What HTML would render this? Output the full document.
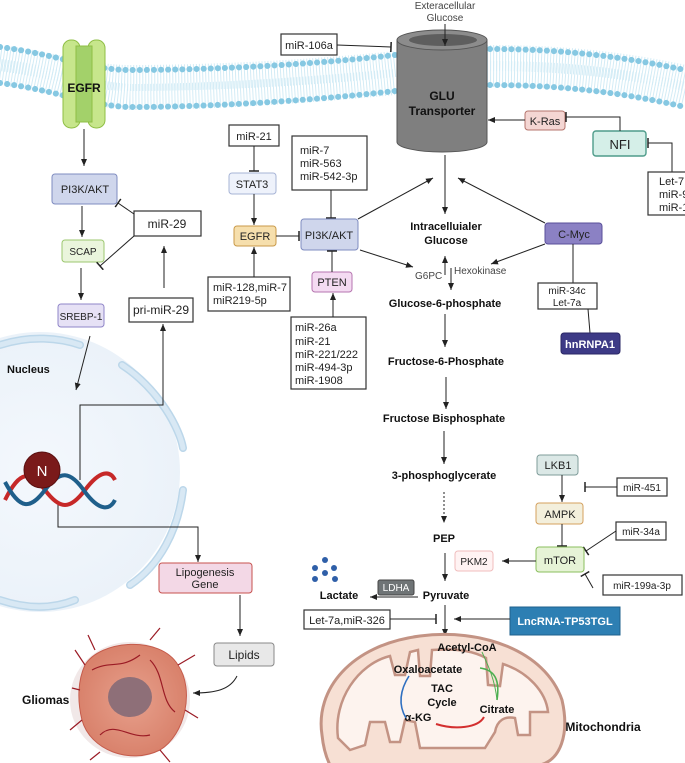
<!DOCTYPE html>
<html><head><meta charset="utf-8"><style>
html,body{margin:0;padding:0;background:#fff}
svg{display:block}
text{font-family:"Liberation Sans",sans-serif;font-size:11px;fill:#222}
.b{font-weight:bold;fill:#111}
.bx{fill:#fff;stroke:#333;stroke-width:1.2}
.ln{stroke:#222;stroke-width:1;fill:none}
</style></head><body>
<svg width="685" height="763" viewBox="0 0 685 763" xmlns="http://www.w3.org/2000/svg">
<defs>
<marker id="a" markerWidth="8" markerHeight="8" refX="7" refY="4" orient="auto" markerUnits="userSpaceOnUse"><path d="M0,1 L7,4 L0,7 z" fill="#222"/></marker>
<marker id="t" markerWidth="4" markerHeight="10" refX="2" refY="5" orient="auto" markerUnits="userSpaceOnUse"><path d="M2,0 L2,10" stroke="#222" stroke-width="1.5"/></marker>
<radialGradient id="nuc" cx="0.5" cy="0.5" r="0.5"><stop offset="0" stop-color="#f4f8fd"/><stop offset="1" stop-color="#ebf2f9"/></radialGradient>
<radialGradient id="tum" cx="0.5" cy="0.5" r="0.5"><stop offset="0" stop-color="#e7a08c"/><stop offset="1" stop-color="#d9826c"/></radialGradient>
</defs>

<!-- membrane -->
<g fill="none" stroke="#d3ecf6" stroke-width="26" stroke-dasharray="1 2">
<path d="M0,58 C60,66 90,78 130,78 C200,78 300,74 395,64"/>
<path d="M487,58 C560,58 620,64 685,78"/>
<path d="M0,72 C60,80 90,95 130,97 C200,97 300,91 395,82"/>
<path d="M487,74 C560,74 620,80 685,95"/>
</g>
<g fill="none" stroke="#86c8e2" stroke-width="6" stroke-linecap="round" stroke-dasharray="0.1 7">
<path d="M0,47 C60,55 90,70 130,70 C200,70 300,66 395,55"/>
<path d="M0,83 C60,91 90,106 130,107 C200,107 300,102 395,91"/>
<path d="M490,49 C560,49 620,56 685,70"/>
<path d="M490,85 C560,85 620,92 685,107"/>
</g>

<!-- EGFR receptor -->
<rect x="63" y="40" width="17" height="88" rx="8" fill="#c7e68c" stroke="#8fbf45"/>
<rect x="88" y="40" width="17" height="88" rx="8" fill="#c7e68c" stroke="#8fbf45"/>
<rect x="76" y="46" width="16" height="76" fill="#a3d16a" stroke="#8fbf45"/>
<text x="84" y="92" text-anchor="middle" class="b" style="font-size:12px">EGFR</text>

<!-- Transporter -->
<path d="M397,40 L397,142 A45,10 0 0 0 487,142 L487,40 Z" fill="#7f7f7f" stroke="#555"/>
<ellipse cx="442" cy="40" rx="45" ry="10" fill="#8c8c8c" stroke="#555"/>
<ellipse cx="443" cy="40" rx="34" ry="6" fill="#5e5e5e"/>
<text x="442" y="100" text-anchor="middle" class="b" style="font-size:12px">GLU</text>
<text x="442" y="115" text-anchor="middle" class="b" style="font-size:12px">Transporter</text>
<text x="445" y="9" text-anchor="middle" style="font-size:10px;fill:#444">Exteracellular</text>
<text x="445" y="21" text-anchor="middle" style="font-size:10px;fill:#444">Glucose</text>
<line x1="445" y1="24" x2="445" y2="46" class="ln" marker-end="url(#a)"/>

<rect x="281" y="34" width="56" height="21" class="bx"/><text x="309" y="49" text-anchor="middle">miR-106a</text>
<line x1="337" y1="45" x2="391" y2="47" class="ln" marker-end="url(#t)"/>

<rect x="525" y="111" width="40" height="19" rx="3" fill="#f4d6d3" stroke="#b5746c"/><text x="545" y="125" text-anchor="middle">K-Ras</text>
<line x1="525" y1="120" x2="488" y2="120" class="ln" marker-end="url(#a)"/>
<rect x="593" y="131" width="53" height="25" rx="3" fill="#d5efe8" stroke="#4e9c8a" stroke-width="1.4"/><text x="620" y="149" text-anchor="middle" style="font-size:13px">NFI</text>
<path d="M620,131 L620,117 L566,117" class="ln" marker-end="url(#t)"/>
<path d="M672,172 L672,143 L648,143" class="ln" marker-end="url(#t)"/>
<rect x="648" y="172" width="45" height="43" class="bx"/>
<text x="659" y="185">Let-7</text><text x="659" y="198">miR-9</text><text x="659" y="211">miR-1</text>

<!-- middle column -->
<rect x="229" y="125" width="50" height="21" class="bx"/><text x="254" y="140" text-anchor="middle">miR-21</text>
<line x1="254" y1="146" x2="254" y2="171" class="ln" marker-end="url(#t)"/>
<rect x="229" y="173" width="47" height="21" rx="3" fill="#eef2fb" stroke="#a7b4d6"/><text x="252" y="188" text-anchor="middle">STAT3</text>
<line x1="254" y1="194" x2="254" y2="225" class="ln" marker-end="url(#a)"/>
<rect x="234" y="226" width="42" height="20" rx="3" fill="#f6dfad" stroke="#c99a49"/><text x="255" y="240" text-anchor="middle">EGFR</text>
<line x1="276" y1="236" x2="299" y2="236" class="ln" marker-end="url(#t)"/>
<rect x="292" y="136" width="75" height="54" class="bx"/>
<text x="300" y="154">miR-7</text><text x="300" y="167">miR-563</text><text x="300" y="180">miR-542-3p</text>
<line x1="331" y1="190" x2="331" y2="218" class="ln" marker-end="url(#t)"/>
<rect x="301" y="219" width="57" height="31" rx="3" fill="#cfd6ec" stroke="#7f8cc0"/><text x="329" y="239" text-anchor="middle">PI3K/AKT</text>
<rect x="208" y="277" width="82" height="34" class="bx"/>
<text x="213" y="291">miR-128,miR-7</text><text x="213" y="304">miR219-5p</text>
<line x1="254" y1="277" x2="254" y2="247" class="ln" marker-end="url(#a)"/>
<rect x="312" y="272" width="40" height="20" rx="3" fill="#f4dbf2" stroke="#b676b0"/><text x="332" y="286" text-anchor="middle">PTEN</text>
<line x1="332" y1="272" x2="332" y2="251" class="ln" marker-end="url(#t)"/>
<rect x="291" y="317" width="75" height="72" class="bx"/>
<text x="295" y="331">miR-26a</text><text x="295" y="345">miR-21</text><text x="295" y="358">miR-221/222</text><text x="295" y="371">miR-494-3p</text><text x="295" y="384">miR-1908</text>
<line x1="333" y1="317" x2="333" y2="293" class="ln" marker-end="url(#a)"/>
<line x1="358" y1="219" x2="433" y2="178" class="ln" marker-end="url(#a)"/>
<line x1="360" y1="250" x2="413" y2="267" class="ln" marker-end="url(#a)"/>
<text x="415" y="279" style="font-size:10px;fill:#444">G6PC</text>

<!-- glycolysis -->
<line x1="445" y1="155" x2="445" y2="214" class="ln" marker-end="url(#a)"/>
<text x="446" y="230" text-anchor="middle" class="b">Intracelluialer</text>
<text x="446" y="244" text-anchor="middle" class="b">Glucose</text>
<line x1="445" y1="275" x2="445" y2="256" class="ln" marker-end="url(#a)"/>
<line x1="451" y1="268" x2="451" y2="290" class="ln" marker-end="url(#a)"/>
<text x="454" y="274" style="font-size:10px;fill:#444">Hexokinase</text>
<text x="445" y="307" text-anchor="middle" class="b">Glucose-6-phosphate</text>
<line x1="445" y1="314" x2="445" y2="347" class="ln" marker-end="url(#a)"/>
<text x="446" y="365" text-anchor="middle" class="b">Fructose-6-Phosphate</text>
<line x1="446" y1="377" x2="446" y2="409" class="ln" marker-end="url(#a)"/>
<text x="444" y="422" text-anchor="middle" class="b">Fructose Bisphosphate</text>
<line x1="444" y1="431" x2="444" y2="464" class="ln" marker-end="url(#a)"/>
<text x="444" y="479" text-anchor="middle" class="b">3-phosphoglycerate</text>
<line x1="444" y1="492" x2="444" y2="523" class="ln" stroke-dasharray="2 2" marker-end="url(#a)"/>
<text x="444" y="542" text-anchor="middle" class="b">PEP</text>
<line x1="445" y1="553" x2="445" y2="581" class="ln" marker-end="url(#a)"/>
<text x="446" y="599" text-anchor="middle" class="b">Pyruvate</text>
<line x1="445" y1="605" x2="445" y2="636" class="ln" marker-end="url(#a)"/>

<!-- C-Myc -->
<rect x="545" y="223" width="57" height="21" rx="3" fill="#8b81c4" stroke="#5a4f9a"/><text x="574" y="238" text-anchor="middle">C-Myc</text>
<line x1="545" y1="223" x2="458" y2="178" class="ln" marker-end="url(#a)"/>
<line x1="545" y1="244" x2="491" y2="264" class="ln" marker-end="url(#a)"/>
<line x1="573" y1="244" x2="573" y2="283" class="ln"/>
<rect x="538" y="283" width="59" height="26" class="bx"/>
<text x="567" y="294" text-anchor="middle" style="font-size:10px">miR-34c</text><text x="567" y="306" text-anchor="middle" style="font-size:10px">Let-7a</text>
<line x1="588" y1="309" x2="590" y2="333" class="ln"/>
<rect x="561" y="333" width="59" height="21" rx="3" fill="#3d3a86" stroke="#2a2766"/><text x="590" y="348" text-anchor="middle" style="fill:#fff;font-weight:bold">hnRNPA1</text>

<!-- LKB1 / AMPK / mTOR -->
<rect x="537" y="455" width="41" height="20" rx="3" fill="#dbe8e6" stroke="#7f9c9a"/><text x="558" y="469" text-anchor="middle">LKB1</text>
<line x1="562" y1="475" x2="562" y2="502" class="ln" marker-end="url(#a)"/>
<rect x="617" y="478" width="50" height="18" class="bx"/><text x="642" y="491" text-anchor="middle" style="font-size:10px">miR-451</text>
<line x1="617" y1="487" x2="585" y2="487" class="ln" marker-end="url(#t)"/>
<rect x="536" y="503" width="47" height="21" rx="3" fill="#f3efdc" stroke="#d4a05e"/><text x="560" y="518" text-anchor="middle">AMPK</text>
<line x1="562" y1="524" x2="562" y2="546" class="ln" marker-end="url(#t)"/>
<rect x="616" y="522" width="50" height="18" class="bx"/><text x="641" y="535" text-anchor="middle" style="font-size:10px">miR-34a</text>
<line x1="616" y1="531" x2="586" y2="551" class="ln" marker-end="url(#t)"/>
<rect x="536" y="547" width="48" height="25" rx="3" fill="#e6f3d6" stroke="#8bbf5e"/><text x="560" y="564" text-anchor="middle">mTOR</text>
<line x1="536" y1="561" x2="502" y2="561" class="ln" marker-end="url(#a)"/>
<rect x="455" y="551" width="38" height="20" rx="3" fill="#fff3f3" stroke="#f0bdbd"/><text x="474" y="565" text-anchor="middle" style="font-size:10px">PKM2</text>
<rect x="603" y="575" width="79" height="20" class="bx"/><text x="642" y="589" text-anchor="middle" style="font-size:10px">miR-199a-3p</text>
<line x1="593" y1="588" x2="585" y2="574" class="ln" marker-end="url(#t)"/>

<!-- Lactate -->
<g fill="#2f5fa8"><circle cx="325" cy="560" r="3"/><circle cx="315" cy="568" r="3"/><circle cx="334" cy="568" r="3"/><circle cx="325" cy="573" r="3"/><circle cx="315" cy="579" r="3"/><circle cx="335" cy="579" r="3"/></g>
<rect x="378" y="580" width="36" height="15" rx="2" fill="#6f7476" stroke="#444"/><text x="396" y="591" text-anchor="middle" style="font-size:10px;fill:#fff">LDHA</text>
<line x1="418" y1="597" x2="370" y2="597" class="ln" marker-end="url(#a)"/>
<text x="339" y="599" text-anchor="middle" class="b">Lactate</text>
<rect x="304" y="610" width="86" height="19" class="bx"/><text x="347" y="624" text-anchor="middle">Let-7a,miR-326</text>
<line x1="390" y1="619" x2="436" y2="619" class="ln" marker-end="url(#t)"/>
<rect x="510" y="607" width="110" height="28" fill="#2d7fb3" stroke="#1f628e"/><text x="565" y="625" text-anchor="middle" style="fill:#fff;font-weight:bold">LncRNA-TP53TGL</text>
<line x1="510" y1="619" x2="454" y2="619" class="ln" marker-end="url(#a)"/>

<!-- Mitochondria -->
<path d="M322,735 C315,690 350,645 420,636 C480,628 545,650 562,700 C570,735 560,760 540,765 L330,765 C325,755 323,745 322,735 Z" fill="#f7e0d4" stroke="#c39384" stroke-width="3"/>
<path d="M338,738 C333,700 358,664 390,656 L395,675 L405,675 L410,652 L418,650 L420,676 L430,676 L432,650 C460,648 475,652 486,658 L488,685 L500,686 L503,664 C528,672 546,692 548,712 L530,712 L530,735 L518,735 L515,718 C505,716 497,720 495,732 L485,748 L420,748 L415,722 L405,720 L400,742 L390,742 L385,722 L370,722 L365,745 L350,750 Z" fill="#fdf3ee" stroke="#c39384" stroke-width="2.5"/>
<text x="467" y="651" text-anchor="middle" class="b">Acetyl-CoA</text>
<text x="428" y="673" text-anchor="middle" class="b">Oxaloacetate</text>
<text x="442" y="692" text-anchor="middle" class="b">TAC</text>
<text x="442" y="706" text-anchor="middle" class="b">Cycle</text>
<text x="497" y="713" text-anchor="middle" class="b">Citrate</text>
<text x="418" y="721" text-anchor="middle" class="b">α-KG</text>
<text x="603" y="731" text-anchor="middle" class="b" style="font-size:12px">Mitochondria</text>
<path d="M406,718 C398,705 400,690 409,676" stroke="#2f6fc0" stroke-width="1.6" fill="none"/>
<path d="M480,668 C495,670 500,680 497,700" stroke="#4caf50" stroke-width="1.6" fill="none"/>
<path d="M482,652 C488,665 495,680 497,700" stroke="#4caf50" stroke-width="1" fill="none"/>
<path d="M484,717 C478,728 455,730 436,724" stroke="#d32f2f" stroke-width="2" fill="none"/>

<!-- left pathway -->
<line x1="84" y1="129" x2="84" y2="166" class="ln" marker-end="url(#a)"/>
<rect x="52" y="174" width="65" height="30" rx="3" fill="#cfd6ec" stroke="#7f8cc0"/><text x="85" y="193" text-anchor="middle">PI3K/AKT</text>
<line x1="82" y1="206" x2="82" y2="237" class="ln" marker-end="url(#a)"/>
<rect x="62" y="240" width="42" height="22" rx="3" fill="#eaf5dc" stroke="#9cc76f"/><text x="83" y="255" text-anchor="middle" style="font-size:10px">SCAP</text>
<rect x="134" y="211" width="67" height="25" class="bx"/><text x="167" y="228" text-anchor="middle" style="font-size:12px">miR-29</text>
<line x1="134" y1="214" x2="118" y2="203" class="ln" marker-end="url(#t)"/>
<line x1="134" y1="236" x2="100" y2="266" class="ln" marker-end="url(#t)"/>
<line x1="81" y1="268" x2="81" y2="300" class="ln" marker-end="url(#a)"/>
<rect x="58" y="304" width="46" height="23" rx="3" fill="#e6e1f5" stroke="#8f85c8"/><text x="81" y="320" text-anchor="middle" style="font-size:10px">SREBP-1</text>
<rect x="129" y="298" width="64" height="24" class="bx"/><text x="161" y="314" text-anchor="middle" style="font-size:12px">pri-miR-29</text>
<line x1="164" y1="288" x2="164" y2="246" class="ln" marker-end="url(#a)"/>

<!-- nucleus -->
<circle cx="40" cy="472" r="140" fill="url(#nuc)"/>
<g fill="none" stroke="#bcd7ea" stroke-width="8" stroke-linecap="round">
<path d="M0,345 C30,335 60,338 80,345"/>
<path d="M122,365 C160,390 180,430 183,448"/>
<path d="M183,490 C178,530 160,565 130,585"/>
<path d="M0,600 C30,610 55,608 75,600"/>
</g>
<g fill="none" stroke="#d8e8f4" stroke-width="5" stroke-linecap="round">
<path d="M0,345 C30,335 60,338 80,345"/>
<path d="M122,365 C160,390 180,430 183,448"/>
<path d="M183,490 C178,530 160,565 130,585"/>
<path d="M0,600 C30,610 55,608 75,600"/>
</g>
<text x="7" y="373" class="b">Nucleus</text>
<line x1="90" y1="336" x2="76" y2="390" class="ln" marker-end="url(#a)"/>
<path d="M80,480 L80,405 L163,405 L163,324" class="ln" marker-end="url(#a)"/>
<path d="M58,505 L58,527 L198,527 L198,562" class="ln" marker-end="url(#a)"/>
<path d="M5,500 C20,470 30,470 45,490 C60,510 70,510 85,490 C100,470 110,470 115,480" stroke="#c62828" stroke-width="4" fill="none"/>
<path d="M5,482 C20,510 30,510 45,490 C60,470 70,470 85,492 C100,512 110,510 115,500" stroke="#1f5f8b" stroke-width="4" fill="none"/>
<circle cx="42" cy="470" r="18" fill="#7a1a1a" stroke="#5a1010"/>
<text x="42" y="476" text-anchor="middle" style="fill:#fff;font-size:15px">N</text>

<rect x="159" y="563" width="93" height="30" rx="3" fill="#f3d8e6" stroke="#c7524e"/>
<text x="205" y="576" text-anchor="middle" style="font-size:11px">Lipogenesis</text><text x="205" y="588" text-anchor="middle">Gene</text>
<line x1="240" y1="595" x2="240" y2="636" class="ln" marker-end="url(#a)"/>
<rect x="214" y="643" width="60" height="23" rx="3" fill="#e8e8e8" stroke="#888"/><text x="244" y="659" text-anchor="middle" style="font-size:12px">Lipids</text>
<path d="M237,676 C230,690 215,693 193,693" class="ln" marker-end="url(#a)"/>

<!-- tumor -->
<ellipse cx="130" cy="700" rx="60" ry="58" fill="#e8d8d8" opacity="0.6"/>
<path d="M85,665 C100,640 160,635 178,665 C195,690 185,735 160,750 C130,765 90,750 82,720 C77,700 78,680 85,665 Z" fill="url(#tum)" stroke="#c55b4b"/>
<ellipse cx="130" cy="697" rx="22" ry="20" fill="#8e6f78"/>
<g stroke="#9b1b25" stroke-width="1.2" fill="none">
<path d="M85,665 L75,650 M95,650 L88,635 M150,640 L160,628 M178,665 L195,655 M185,710 L198,718 M160,750 L170,762 M100,752 L90,760 M82,720 L70,730 M80,690 L72,688"/>
<path d="M92,670 C110,660 120,670 140,655 M150,660 C165,675 160,700 175,712 M100,735 C115,720 130,740 150,735"/>
</g>
<text x="22" y="704" class="b" style="font-size:12px">Gliomas</text>
</svg>
</body></html>
